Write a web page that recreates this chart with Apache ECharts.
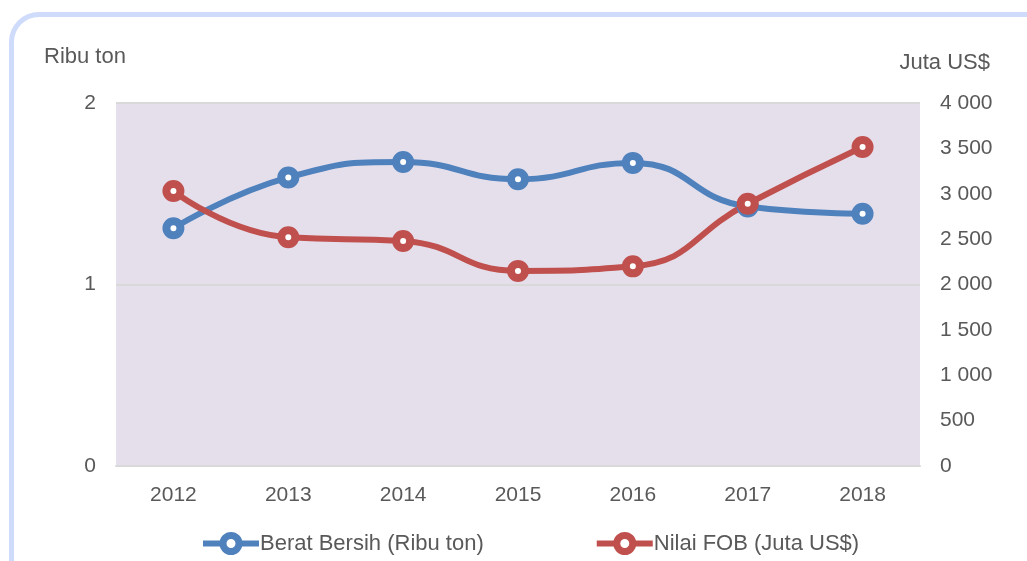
<!DOCTYPE html>
<html>
<head>
<meta charset="utf-8">
<script src="https://cdn.jsdelivr.net/npm/echarts@6/dist/echarts.min.js"></script>
<style>
    html, body { margin: 0; padding: 0; background: #fff; overflow: hidden; }
    #frame {
        position: absolute; left: 9px; top: 12px; width: 1060px; height: 600px;
        border: 5px solid #cfdbfb; border-radius: 30px; box-sizing: border-box;
    }
    #chart_1 { position: absolute; left: 0; top: 0; width: 1027px; height: 561px; }
</style>
</head>
<body>
<div id="frame"></div>
<div id="chart_1"></div>
<script>
var years = ['2012', '2013', '2014', '2015', '2016', '2017', '2018'];
var beratBersih = [1.31, 1.59, 1.675, 1.58, 1.67, 1.43, 1.39];
var nilaiFob = [3030, 2520, 2480, 2150, 2200, 2890, 3515];
var seriesNames = ['Berat Bersih (Ribu ton)', 'Nilai FOB (Juta US$)'];
var seriesColors = ['#4f81bd', '#c0504d'];

function aa() {
    var font = '"Liberation Sans", Arial, sans-serif';
    var txt = '#595959';
    var fs = 21;

    var option = {
        textStyle: { fontFamily: font },
        grid: {
            left: 116, right: 107, top: 103, bottom: 95,
            show: true, backgroundColor: '#e5dfec', borderWidth: 0
        },
        legend: {
            bottom: 6,
            left: 200,
            padding: 0,
            itemGap: 110,
            itemWidth: 56,
            itemHeight: 20,
            textStyle: { color: txt, fontSize: 22, fontFamily: font, padding: [0, 0, 0, -4] },
            data: seriesNames.map(function (n, i) {
                return {
                    name: n,
                    itemStyle: { color: '#fff', borderColor: seriesColors[i], borderWidth: 7 },
                    lineStyle: { color: seriesColors[i], width: 6 }
                };
            })
        },
        graphic: [
            { type: 'text', left: 44, top: 46, style: { text: 'Ribu ton', fill: txt, fontSize: 22, fontFamily: font } },
            { type: 'text', right: 37, top: 52, style: { text: 'Juta US$', fill: txt, fontSize: 22, fontFamily: font } }
        ],
        xAxis: {
            type: 'category',
            data: years,
            boundaryGap: true,
            axisLine: { show: true, lineStyle: { color: '#d9d9d9', width: 2 } },
            axisTick: { show: false },
            axisLabel: { color: txt, fontSize: fs, margin: 19 }
        },
        yAxis: [{
            type: 'value',
            min: 0, max: 2, interval: 1,
            axisLine: { show: false },
            axisTick: { show: false },
            axisLabel: { color: txt, fontSize: fs, margin: 20 },
            splitLine: { lineStyle: { color: '#d9d9d9', width: 2 } }
        }, {
            type: 'value',
            min: 0, max: 4000, interval: 500,
            axisLine: { show: false },
            axisTick: { show: false },
            splitLine: { show: false },
            axisLabel: {
                color: txt, fontSize: fs, margin: 20,
                formatter: function (v) {
                    return String(v).replace(/\B(?=(\d{3})+(?!\d))/g, ' ');
                }
            }
        }],
        series: [{
            name: seriesNames[0],
            type: 'line',
            yAxisIndex: 0,
            smooth: 0.5,
            symbol: 'circle',
            symbolSize: 14,
            lineStyle: { color: seriesColors[0], width: 6 },
            itemStyle: { color: '#fff', borderColor: seriesColors[0], borderWidth: 8 },
            emphasis: { disabled: true },
            data: beratBersih
        }, {
            name: seriesNames[1],
            type: 'line',
            yAxisIndex: 1,
            smooth: 0.5,
            symbol: 'circle',
            symbolSize: 14,
            lineStyle: { color: seriesColors[1], width: 6 },
            itemStyle: { color: '#fff', borderColor: seriesColors[1], borderWidth: 8 },
            emphasis: { disabled: true },
            data: nilaiFob
        }]
    };
    var myChart = echarts.init(document.getElementById('chart_1'));
    myChart.setOption(option);

    window.addEventListener("resize", function () {
        myChart.resize();
    });
}

aa();
</script>
</body>
</html>
